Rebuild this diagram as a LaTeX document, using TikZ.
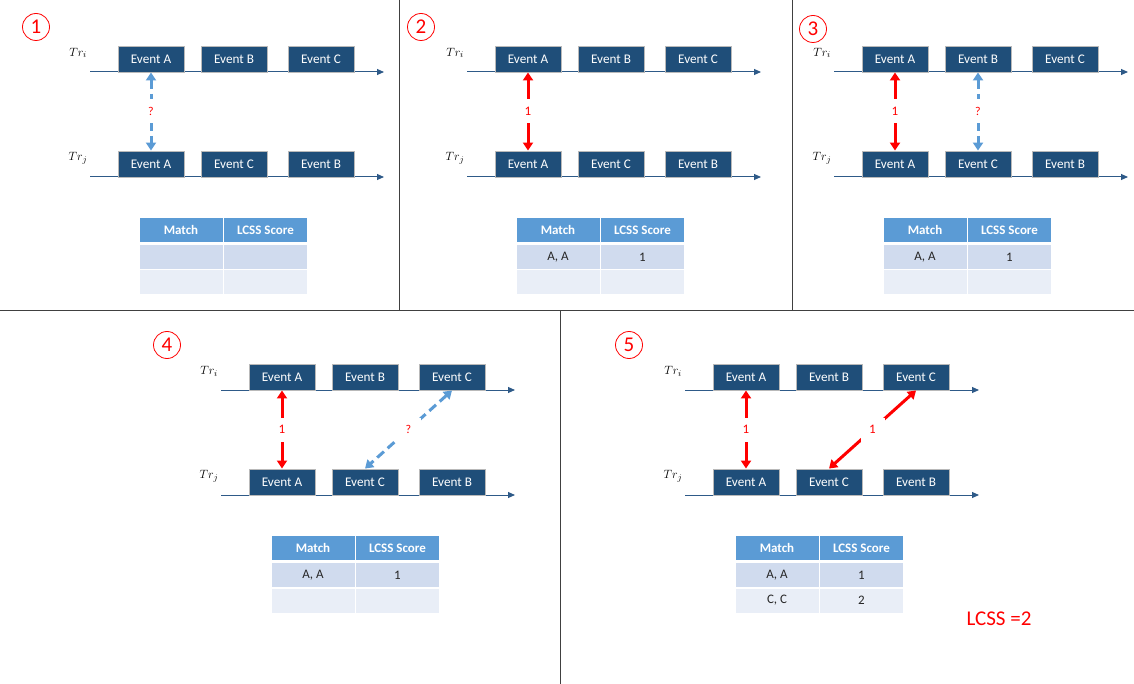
\documentclass[tikz,border=0pt]{standalone}
\usepackage{fontspec}
\setmainfont{Carlito}
\usetikzlibrary{arrows.meta}
\definecolor{evfill}{HTML}{1F4E79}
\definecolor{tlc}{HTML}{2E5A88}
\definecolor{hdr}{HTML}{5B9BD5}
\definecolor{rowa}{HTML}{D0DBEE}
\definecolor{rowb}{HTML}{E9EEF7}
\definecolor{arrblue}{HTML}{5B9BD5}
\definecolor{sep}{HTML}{404040}
\definecolor{celltext}{HTML}{262626}
\tikzset{
  evbox/.style={fill=evfill, draw=gray!55, line width=0.9pt, minimum width=66pt, minimum height=26pt, inner sep=0pt, text=white, font=\fontsize{13.2}{15}\selectfont},
  trlab/.style={inner sep=0pt, font=\fontsize{13}{15}\selectfont},
  tline/.style={draw=tlc, line width=1pt, -{Triangle[length=7pt,width=6pt]}},
  hcell/.style={fill=hdr, minimum width=83pt, minimum height=24pt, inner sep=0pt, text=white, font=\bfseries\fontsize{13}{15}\selectfont},
  rcella/.style={fill=rowa, minimum width=83pt, minimum height=24pt, inner sep=0pt, text=celltext, font=\fontsize{13}{15}\selectfont},
  rcellb/.style={fill=rowb, minimum width=83pt, minimum height=24pt, inner sep=0pt, text=celltext, font=\fontsize{13}{15}\selectfont},
  numcirc/.style={circle, draw=red, line width=0.8pt, minimum size=27pt, inner sep=0pt, text=red, font=\fontsize{21}{23}\selectfont},
  redarr/.style={draw=red, line width=3pt, {Triangle[length=8pt,width=10pt]}-{Triangle[length=8pt,width=10pt]}},
  bluearr/.style={draw=arrblue, line width=3pt, dash pattern=on 9pt off 5pt, {Triangle[length=8pt,width=10pt]}-{Triangle[length=8pt,width=10pt]}},
  onelab/.style={fill=white, text=red, minimum size=24pt, inner sep=0pt, font=\fontsize{13}{15}\selectfont},
  qlab/.style={fill=white, text=red, minimum size=24pt, inner sep=0pt, font=\fontsize{12}{14}\selectfont},
  lcsslab/.style={text=red, inner sep=0pt, font=\fontsize{21}{24}\selectfont},
}
\newcommand\drawpanel[3]{%
  \begin{scope}[shift={(#2,#3)}]
    \node[trlab] (#1-tri) at (78,53) {$Tr_i$};
    \node[trlab] (#1-trj) at (78,158) {$Tr_j$};
    \coordinate (#1-is) at (90,72);
    \coordinate (#1-ie) at (384,72);
    \coordinate (#1-js) at (90,177);
    \coordinate (#1-je) at (384,177);
    \draw[tline] (#1-is) -- (#1-ie);
    \draw[tline] (#1-js) -- (#1-je);
    \node[evbox] (#1-i1) at (151,59) {Event A};
    \node[evbox] (#1-i2) at (234,59) {Event B};
    \node[evbox] (#1-i3) at (321,59) {Event C};
    \node[evbox] (#1-j1) at (151,164) {Event A};
    \node[evbox] (#1-j2) at (234,164) {Event C};
    \node[evbox] (#1-j3) at (321,164) {Event B};
  \end{scope}}
\newcommand\drawtable[7]{%
  \begin{scope}[shift={(#2,#3)}]
    \node[hcell] (#1-h1) at (181,230) {Match};
    \node[hcell] (#1-h2) at (265.5,230) {LCSS Score};
    \node[rcella] (#1-a1) at (181,257) {#4};
    \node[rcella] (#1-a2) at (265.5,257) {#5};
    \node[rcellb] (#1-b1) at (181,282.5) {#6};
    \node[rcellb] (#1-b2) at (265.5,282.5) {#7};
  \end{scope}}
\begin{document}
\begin{tikzpicture}[x=1pt,y=-1pt]
\useasboundingbox (0,0) rectangle (1134,684);
\fill[white] (0,0) rectangle (1134,684);
% separators
\draw[sep, line width=1pt] (399,0) -- (399,311);
\draw[sep, line width=1pt] (792,0) -- (792,311);
\draw[sep, line width=1pt] (0,311) -- (1134,311);
\draw[sep, line width=1pt] (560,311) -- (560,684);
% numbers
\node[numcirc] (n1) at (36,27) {1};
\node[numcirc] (n2) at (421,27) {2};
\node[numcirc] (n3) at (813,29) {3};
\node[numcirc] (n4) at (167,345) {4};
\node[numcirc] (n5) at (629,345) {5};
% panels
\drawpanel{p1}{0}{0}
\drawpanel{p2}{377}{0}
\drawpanel{p3}{744}{0}
\drawpanel{p4}{131}{318}
\drawpanel{p5}{595}{318}
\drawtable{t1}{0}{0}{}{}{}{}
\drawtable{t2}{377}{0}{A, A}{1}{}{}
\drawtable{t3}{744}{0}{A, A}{1}{}{}
\drawtable{t4}{132}{318}{A, A}{1}{}{}
\drawtable{t5}{596}{318}{A, A}{1}{C, C}{2}
% arrows
\draw[bluearr] (p1-i1.south) -- node[qlab] (q1) {?} (p1-j1.north);
\draw[redarr] (p2-i1.south) -- node[onelab] (o2) {1} (p2-j1.north);
\draw[redarr] (p3-i1.south) -- node[onelab] (o3) {1} (p3-j1.north);
\draw[bluearr] (p3-i2.south) -- node[qlab] (q3) {?} (p3-j2.north);
\draw[redarr] (p4-i1.south) -- node[onelab] (o4) {1} (p4-j1.north);
\draw[bluearr] (p4-i3.south) -- node[qlab] (q4) {?} (p4-j2.north);
\draw[redarr] (p5-i1.south) -- node[onelab] (o5) {1} (p5-j1.north);
\draw[redarr] (p5-i3.south) -- node[onelab] (o5b) {1} (p5-j2.north);
% result
\node[lcsslab] (res) at (999,619) {LCSS =2};
\end{tikzpicture}
\end{document}
